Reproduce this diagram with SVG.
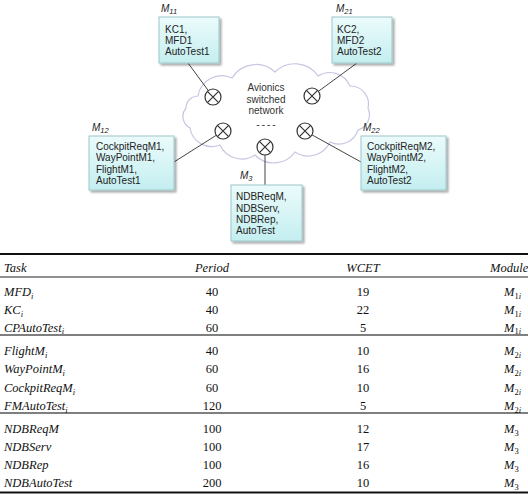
<svg xmlns="http://www.w3.org/2000/svg" width="528" height="494" viewBox="0 0 528 494">
<defs>
<linearGradient id="boxg" x1="0" y1="0" x2="0" y2="1">
<stop offset="0" stop-color="#ecfbfb"/>
<stop offset="1" stop-color="#c4eef0"/>
</linearGradient>
<filter id="sh" x="-10%" y="-10%" width="130%" height="130%">
<feGaussianBlur in="SourceAlpha" stdDeviation="1.2"/>
<feOffset dx="1.5" dy="1.5" result="b"/>
<feComponentTransfer><feFuncA type="linear" slope="0.35"/></feComponentTransfer>
<feMerge><feMergeNode/><feMergeNode in="SourceGraphic"/></feMerge>
</filter>
<g id="sw">
<circle cx="0" cy="0" r="8" fill="#fff" stroke="#333" stroke-width="1.2"/>
<path d="M-5.6,-5.6 L5.6,5.6 M5.6,-5.6 L-5.6,5.6" stroke="#333" stroke-width="1.2"/>
</g>
</defs>
<style>
.box{fill:url(#boxg);stroke:#9cc6ca;stroke-width:1;filter:url(#sh)}
.bt{font-family:"Liberation Sans",Arial,sans-serif;font-size:10px;fill:#222}
.lab{font-family:"Liberation Sans",Arial,sans-serif;font-size:10px;font-style:italic;fill:#222}
.sub{font-size:7.5px}
.con{stroke:#444;stroke-width:1;fill:none}
.cloud{fill:#fff;stroke:#c6c6e4;stroke-width:1.2}
.ct{font-family:"Liberation Sans",Arial,sans-serif;font-size:10px;fill:#333;text-anchor:middle}
.tt{font-family:"Liberation Serif","Times New Roman",serif;font-size:12.5px;font-style:italic;fill:#111}
.tn{font-family:"Liberation Serif","Times New Roman",serif;font-size:12.5px;fill:#111;text-anchor:middle}
.ts{font-size:8.5px}
.tsn{font-size:8.5px;font-style:normal}
</style>

<g id="network">
<path class="cloud" d="M198,96 A24,24 0 0 1 232,78 A28,28 0 0 1 275,72 A28,28 0 0 1 318,76 A22,22 0 0 1 350,86 A18,18 0 0 1 368,108 A16,16 0 0 1 358,130 A20,20 0 0 1 330,142 A24,24 0 0 1 295,152 A26,26 0 0 1 255,155 A24,24 0 0 1 220,145 A22,22 0 0 1 190,128 A13,13 0 0 1 186,108 A12,12 0 0 1 198,96 Z"/>
<text class="ct" x="266" y="91">Avionics</text>
<text class="ct" x="266" y="102.5">switched</text>
<text class="ct" x="266" y="114.3">network</text>
<text class="ct" x="267" y="128" letter-spacing="2">----</text>
</g>

<g id="connectors">
<line class="con" x1="188" y1="63" x2="213" y2="97"/>
<line class="con" x1="357" y1="63" x2="312" y2="96"/>
<line class="con" x1="174" y1="162" x2="223" y2="131"/>
<line class="con" x1="305" y1="131" x2="361" y2="162"/>
<line class="con" x1="265" y1="147" x2="265" y2="185"/>
</g>

<g id="switches">
<use href="#sw" x="213" y="97"/>
<use href="#sw" x="312" y="96"/>
<use href="#sw" x="223" y="131"/>
<use href="#sw" x="305" y="131"/>
<use href="#sw" x="265" y="147"/>
</g>

<g id="M11">
<text class="lab" x="161" y="11.5">M<tspan class="sub" dy="2">11</tspan></text>
<rect class="box" x="159" y="17" width="60" height="46"/>
<text class="bt" x="165" y="32.5">KC1,</text>
<text class="bt" x="165" y="43.5">MFD1</text>
<text class="bt" x="165" y="55">AutoTest1</text>
</g>

<g id="M21">
<text class="lab" x="336" y="11.5">M<tspan class="sub" dy="2">21</tspan></text>
<rect class="box" x="332" y="17" width="60" height="46"/>
<text class="bt" x="337" y="32.5">KC2,</text>
<text class="bt" x="337" y="43.5">MFD2</text>
<text class="bt" x="337" y="55">AutoTest2</text>
</g>

<g id="M12">
<text class="lab" x="92" y="130.5">M<tspan class="sub" dy="2">12</tspan></text>
<rect class="box" x="89" y="136" width="85" height="54"/>
<text class="bt" x="96" y="149.5">CockpitReqM1,</text>
<text class="bt" x="96" y="161">WayPointM1,</text>
<text class="bt" x="96" y="172.5">FlightM1,</text>
<text class="bt" x="96" y="184">AutoTest1</text>
</g>

<g id="M22">
<text class="lab" x="363" y="130.5">M<tspan class="sub" dy="2">22</tspan></text>
<rect class="box" x="361" y="136" width="85" height="54"/>
<text class="bt" x="367" y="149.5">CockpitReqM2,</text>
<text class="bt" x="367" y="161">WayPointM2,</text>
<text class="bt" x="367" y="172.5">FlightM2,</text>
<text class="bt" x="367" y="184">AutoTest2</text>
</g>

<g id="M3">
<text class="lab" x="240" y="179">M<tspan class="sub" dy="2">3</tspan></text>
<rect class="box" x="231" y="185" width="71" height="56"/>
<text class="bt" x="236" y="200">NDBReqM,</text>
<text class="bt" x="236" y="211.5">NDBServ,</text>
<text class="bt" x="236" y="222.7">NDBRep,</text>
<text class="bt" x="236" y="234">AutoTest</text>
</g>

<g id="table">
<line x1="0" y1="254" x2="528" y2="254" stroke="#111" stroke-width="2"/>
<line x1="0" y1="277" x2="528" y2="277" stroke="#222" stroke-width="1"/>
<line x1="0" y1="335" x2="528" y2="335" stroke="#555" stroke-width="1.5"/>
<line x1="0" y1="413" x2="528" y2="413" stroke="#555" stroke-width="1.5"/>
<line x1="0" y1="492.5" x2="528" y2="492.5" stroke="#111" stroke-width="2"/>

<text class="tt" x="4" y="272">Task</text>
<text class="tt" x="212" y="272" text-anchor="middle">Period</text>
<text class="tt" x="363" y="272" text-anchor="middle">WCET</text>
<text class="tt" x="490" y="272">Module</text>

<text class="tt" x="4" y="296">MFD<tspan class="ts" dy="2.5">i</tspan></text>
<text class="tt" x="4" y="314">KC<tspan class="ts" dy="2.5">i</tspan></text>
<text class="tt" x="4" y="331.5">CPAutoTest<tspan class="ts" dy="2.5">i</tspan></text>
<text class="tt" x="4" y="355">FlightM<tspan class="ts" dy="2.5">i</tspan></text>
<text class="tt" x="4" y="373">WayPointM<tspan class="ts" dy="2.5">i</tspan></text>
<text class="tt" x="4" y="392">CockpitReqM<tspan class="ts" dy="2.5">i</tspan></text>
<text class="tt" x="4" y="410">FMAutoTest<tspan class="ts" dy="2.5">i</tspan></text>
<text class="tt" x="4" y="433">NDBReqM</text>
<text class="tt" x="4" y="451">NDBServ</text>
<text class="tt" x="4" y="469">NDBRep</text>
<text class="tt" x="4" y="487">NDBAutoTest</text>

<text class="tn" x="212" y="296">40</text>
<text class="tn" x="212" y="314">40</text>
<text class="tn" x="212" y="331.5">60</text>
<text class="tn" x="212" y="355">40</text>
<text class="tn" x="212" y="373">60</text>
<text class="tn" x="212" y="392">60</text>
<text class="tn" x="212" y="410">120</text>
<text class="tn" x="212" y="433">100</text>
<text class="tn" x="212" y="451">100</text>
<text class="tn" x="212" y="469">100</text>
<text class="tn" x="212" y="487">200</text>

<text class="tn" x="363" y="296">19</text>
<text class="tn" x="363" y="314">22</text>
<text class="tn" x="363" y="331.5">5</text>
<text class="tn" x="363" y="355">10</text>
<text class="tn" x="363" y="373">16</text>
<text class="tn" x="363" y="392">10</text>
<text class="tn" x="363" y="410">5</text>
<text class="tn" x="363" y="433">12</text>
<text class="tn" x="363" y="451">17</text>
<text class="tn" x="363" y="469">16</text>
<text class="tn" x="363" y="487">10</text>

<text class="tt" x="504" y="296">M<tspan class="tsn" dy="2.5">1</tspan><tspan class="ts">i</tspan></text>
<text class="tt" x="504" y="314">M<tspan class="tsn" dy="2.5">1</tspan><tspan class="ts">i</tspan></text>
<text class="tt" x="504" y="331.5">M<tspan class="tsn" dy="2.5">1</tspan><tspan class="ts">i</tspan></text>
<text class="tt" x="504" y="355">M<tspan class="tsn" dy="2.5">2</tspan><tspan class="ts">i</tspan></text>
<text class="tt" x="504" y="373">M<tspan class="tsn" dy="2.5">2</tspan><tspan class="ts">i</tspan></text>
<text class="tt" x="504" y="392">M<tspan class="tsn" dy="2.5">2</tspan><tspan class="ts">i</tspan></text>
<text class="tt" x="504" y="410">M<tspan class="tsn" dy="2.5">2</tspan><tspan class="ts">i</tspan></text>
<text class="tt" x="504" y="433">M<tspan class="tsn" dy="2.5">3</tspan></text>
<text class="tt" x="504" y="451">M<tspan class="tsn" dy="2.5">3</tspan></text>
<text class="tt" x="504" y="469">M<tspan class="tsn" dy="2.5">3</tspan></text>
<text class="tt" x="504" y="487">M<tspan class="tsn" dy="2.5">3</tspan></text>
</g>
</svg>
